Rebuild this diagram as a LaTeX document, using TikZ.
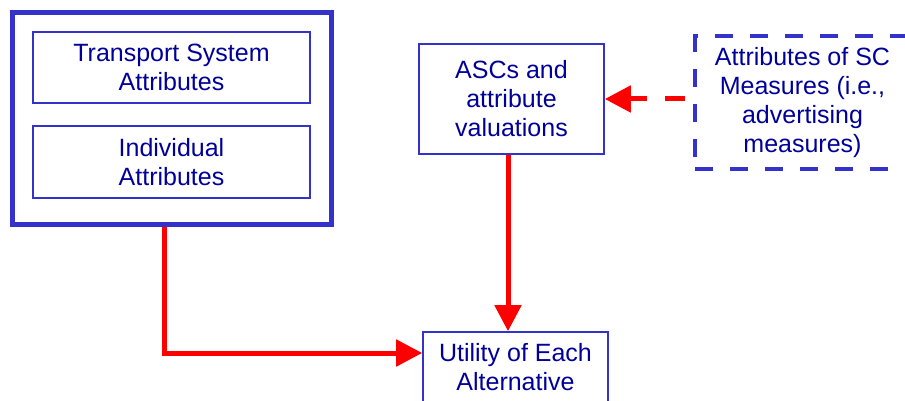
\documentclass[tikz,border=0pt]{standalone}
\usepackage{fontspec}
\setmainfont{Liberation Sans}
\usetikzlibrary{arrows.meta}
\definecolor{boxblue}{HTML}{3333CC}
\definecolor{txtblue}{HTML}{000099}
\definecolor{flowred}{HTML}{FF0000}
\begin{document}
\begin{tikzpicture}[x=1pt,y=-1pt,
  lbl/.style={font=\fontsize{25}{29}\selectfont, text=txtblue, align=center, inner sep=0pt},
  thinbox/.style={lbl, draw=boxblue, line width=1.6pt},
  thickbox/.style={draw=boxblue, line width=5pt, inner sep=0pt},
  dashbox/.style={lbl, draw=boxblue, line width=4pt, dash pattern=on 18pt off 17pt},
  redarrow/.style={draw=flowred, line width=5pt, -{Triangle[length=26pt,width=26pt]}}
]
\useasboundingbox (0,0) rectangle (905,401);

% left group: frame with two attribute boxes
\node[thickbox, minimum width=319pt, minimum height=211.5pt] (outer) at (171.5,118.25) {};
\node[thinbox, minimum width=277pt, minimum height=71pt] (tsa) at (171.5,67.5) {Transport System\\Attributes};
\node[thinbox, minimum width=277pt, minimum height=72pt] (ind) at (171.5,162) {Individual\\Attributes};

% middle and right boxes
\node[thinbox, minimum width=185pt, minimum height=110pt] (asc) at (511.5,99) {ASCs and\\attribute\\valuations};
\node[dashbox, minimum width=215pt, minimum height=132.5pt] (sc) at (802.5,102.75) {Attributes of SC\\Measures (i.e.,\\advertising\\measures)};
\node[thinbox, minimum width=185pt, minimum height=71pt] (util) at (515.5,367.5) {Utility of Each\\Alternative};

% connectors
\draw[redarrow] ([xshift=-7.5pt]outer.south) |- ([yshift=14.5pt]util.west);
\draw[redarrow] ([xshift=-3.5pt]asc.south) -- ([xshift=-7.5pt]util.north);
\draw[redarrow, dash pattern=on 20pt off 18pt, dash phase=30pt] (sc.west |- asc.east) -- (asc.east);
\end{tikzpicture}
\end{document}
